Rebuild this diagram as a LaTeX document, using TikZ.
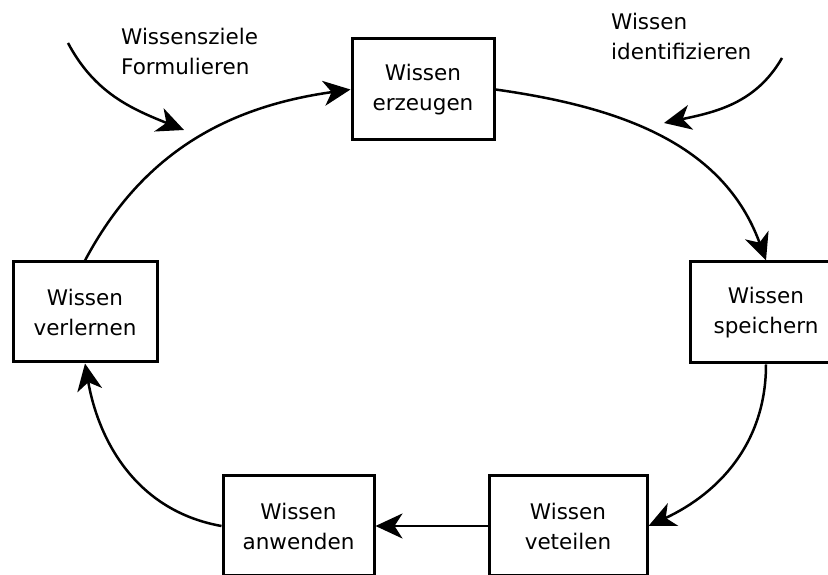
\documentclass[tikz,border=0pt]{standalone}
\usepackage{fontspec}
\setmainfont{DejaVu Sans}
\usepackage{tikz}
\usetikzlibrary{arrows.meta}

\begin{document}
\begin{tikzpicture}[x=1pt,y=1pt,>={Stealth[length=27pt,width=25pt,inset=8pt]},
  box/.style={draw,line width=3pt,align=center,font=\fontsize{21.5}{30}\selectfont},
  pfeil/.style={line width=2.5pt,->}]
  \useasboundingbox (0,0) rectangle (828,575);
  \clip (0,0) rectangle (828,575);
  \node[box,minimum width=142pt,minimum height=101pt] (erzeugen) at (423,485.5) {Wissen\\erzeugen};
  \node[box,minimum width=152pt,minimum height=101pt] (speichern) at (766,262.5) {Wissen\\speichern};
  \node[box,minimum width=158pt,minimum height=100pt] (veteilen) at (568,49) {Wissen\\veteilen};
  \node[box,minimum width=151pt,minimum height=100pt] (anwenden) at (298.5,49) {Wissen\\anwenden};
  \node[box,minimum width=144pt,minimum height=100pt] (verlernen) at (85,263) {Wissen\\verlernen};
  \node[align=left,anchor=north west,inner sep=0pt,font=\fontsize{21.5}{30}\selectfont] (ziele) at (121,547) {Wissensziele\\Formulieren};
  \node[align=left,anchor=north west,inner sep=0pt,font=\fontsize{21.5}{30}\selectfont] (ident) at (611,562) {Wissen\\identifizieren};
  \coordinate (z1) at (68,532);
  \coordinate (z2) at (184,445);
  \coordinate (i1) at (782,517);
  \coordinate (i2) at (664,452);
  \draw[pfeil] (verlernen.north) to[out=62,in=188] (erzeugen.west);
  \draw[pfeil] (erzeugen.east) to[out=-8,in=110] (speichern.north);
  \draw[pfeil] (speichern.south) to[out=-90,in=25] (veteilen.east);
  \draw[pfeil] (veteilen.west) -- (anwenden.east);
  \draw[pfeil] (anwenden.west) to[out=170,in=-80] (verlernen.south);
  \draw[pfeil] (z1) to[out=-62,in=158] (z2);
  \draw[pfeil] (i1) to[out=240,in=12] (i2);
\end{tikzpicture}
\end{document}
